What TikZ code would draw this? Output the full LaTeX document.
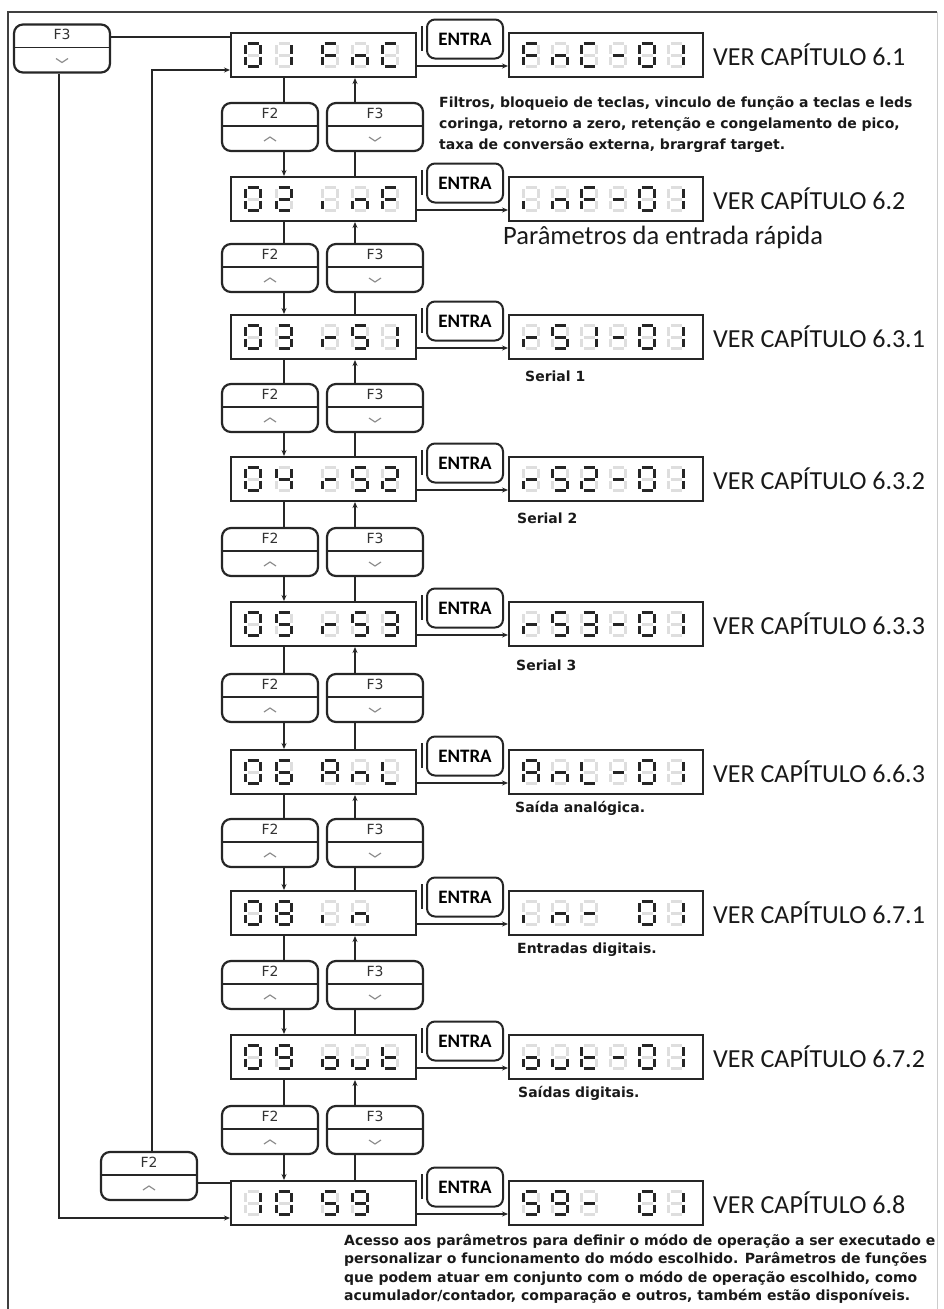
\documentclass[tikz,border=0pt]{standalone}
\usepackage{fontspec}
\setmainfont{DejaVu Sans}
\newfontfamily\calfont{Carlito}
\usetikzlibrary{arrows.meta}

\makeatletter
% segmentos acesos de cada caractere
\def\sgdef#1#2{\expandafter\def\csname sg@#1\endcsname{#2}}
\sgdef0{abcdef}\sgdef1{bc}\sgdef2{abdeg}\sgdef3{abcdg}\sgdef4{bcfg}
\sgdef5{acdfg}\sgdef6{acdefg}\sgdef8{abcdefg}\sgdef9{abcdfg}
\sgdef F{aefg}\sgdef n{ceg}\sgdef C{adef}\sgdef i{e}\sgdef r{eg}
\sgdef S{acdfg}\sgdef A{abcefg}\sgdef L{def}\sgdef o{cdeg}\sgdef u{cde}
\sgdef t{defg}\sgdef -{g}
% um digito de 7 segmentos em (x,y)
\newcommand\segdigit[3]{%
  \edef\seglit{\csname sg@#3\endcsname}%
  \foreach \sn/\xa/\ya/\xb/\yb in {a/-5.5/-11.5/5.5/-11.5, b/7.5/-10/7.5/-1.5,
      c/7.5/1.5/7.5/10, d/-5.5/11.5/5.5/11.5, e/-7.5/1.5/-7.5/10,
      f/-7.5/-10/-7.5/-1.5, g/-5.5/0/5.5/0}{%
    \edef\segtmp{\noexpand\in@{\sn}{\seglit}}\segtmp
    \ifin@
      \draw[segon] (#1+\xa,#2+\ya) -- (#1+\xb,#2+\yb);
    \else
      \draw[segoff] (#1+\xa,#2+\ya) -- (#1+\xb,#2+\yb);
    \fi
  }}
\makeatother
% tecla F2/F3: nome, x, y, texto, pontas e vertice da seta
\newcommand\fkey[6]{%
  \node[fkbox] (#1) at (#2,#3) {};
  \draw[keyline] ([yshift=1pt]#1.west) -- ([yshift=1pt]#1.east);
  \node[keylbl] (#1-t) at ([yshift=-11.5pt]#1.north) {#4};
  \draw[chev] ([xshift=-6pt,yshift=#5pt]#1.center) -- ([yshift=#6pt]#1.center)
    -- ([xshift=6pt,yshift=#5pt]#1.center);
}

\begin{document}
\begin{tikzpicture}[x=1pt, y=-1pt,
    lcd/.style={draw=black!85, line width=2pt, minimum height=44pt, inner sep=0pt},
    segon/.style={line width=3pt, black!85},
    segoff/.style={line width=3pt, black!13},
    fkbox/.style={draw=black!85, line width=2.2pt, rounded corners=9pt,
        minimum width=96pt, minimum height=48pt, inner sep=0pt},
    keyline/.style={line width=1.8pt, black!85},
    keylbl/.style={font=\fontsize{14}{14}\selectfont, text=black!80, inner sep=0pt},
    chev/.style={line width=1.2pt, black!45},
    entra/.style={draw=black!85, line width=2pt, rounded corners=8pt,
        minimum width=76pt, minimum height=39pt, inner sep=0pt,
        font=\calfont\bfseries\fontsize{19}{19}\selectfont},
    conn/.style={line width=2pt, black!85},
    tip/.style={-{Stealth[length=6pt,width=5pt]}},
    chap/.style={font=\calfont\fontsize{26}{26}\selectfont, inner sep=0pt, text=black!90},
    desc/.style={font=\bfseries\fontsize{14}{21}\selectfont, align=left, inner sep=0pt, text=black!90},
    small/.style={font=\bfseries\fontsize{14}{14}\selectfont, inner sep=0pt, text=black!90}]
    \useasboundingbox (0,0) rectangle (943,1309);
    % moldura
    \draw[line width=1.5pt, black!75] (8,1309) -- (8,12) -- (937,12);
    \draw[line width=1pt, black!20] (937,12) -- (937,1309);

    % visores de cada grupo
    \foreach \rw/\y/\lc/\rc/\chap in {
        1/55/{22/0,53/1,99/F,129/n,159/C}/{22/F,51/n,80/C,109/-,138/0,167/1}/6.1,
        2/199/{22/0,53/2,99/i,129/n,159/F}/{22/i,51/n,80/F,109/-,138/0,167/1}/6.2,
        3/337/{22/0,53/3,99/r,129/S,159/1}/{22/r,51/S,80/1,109/-,138/0,167/1}/6.3.1,
        4/479/{22/0,53/4,99/r,129/S,159/2}/{22/r,51/S,80/2,109/-,138/0,167/1}/6.3.2,
        5/624/{22/0,53/5,99/r,129/S,159/3}/{22/r,51/S,80/3,109/-,138/0,167/1}/6.3.3,
        6/772/{22/0,53/6,99/A,129/n,159/L}/{22/A,51/n,80/L,109/-,138/0,167/1}/6.6.3,
        7/913/{22/0,53/8,99/i,129/n}/{22/i,51/n,80/-,138/0,167/1}/6.7.1,
        8/1057/{22/0,53/9,99/o,129/u,159/t}/{22/o,51/u,80/t,109/-,138/0,167/1}/6.7.2,
        9/1203/{22/1,53/0,99/S,129/9}/{22/S,51/9,80/-,138/0,167/1}/6.8}{
        \node[lcd, minimum width=185pt] (L\rw) at (323.5,\y) {};
        \foreach \off/\chr in \lc {\segdigit{231+\off}{\y}{\chr}}
        \node[lcd, minimum width=194pt] (R\rw) at (606,\y) {};
        \foreach \off/\chr in \rc {\segdigit{509+\off}{\y}{\chr}}
        \node[entra] (E\rw) at (465,\y-16) {ENTRA};
        \draw[line width=1.8pt, black!85] ([xshift=-4pt,yshift=13pt]E\rw.west)
            -- ([xshift=-4pt,yshift=-12pt]E\rw.west);
        \draw[conn, tip] ([yshift=-11pt]L\rw.east) -- ([yshift=-11pt]R\rw.west);
        \node[chap, anchor=west] (T\rw) at ([xshift=9pt]R\rw.east) {VER CAPÍTULO \chap};
    }

    % teclas F2 e F3 entre os visores
    \foreach \rw/\nx/\ky in {1/2/127, 2/3/268, 3/4/408, 4/5/552, 5/6/698, 6/7/843, 7/8/985, 8/9/1130}{
        \fkey{U\rw}{270}{\ky}{F2}{-14}{-10}
        \fkey{D\rw}{375}{\ky}{F3}{-10}{-14}
        \coordinate (a\rw) at ([xshift=54pt]L\rw.south west);
        \coordinate (b\rw) at ([xshift=125pt]L\rw.south west);
        \draw[conn] (a\rw) -- (a\rw |- U\rw.north);
        \draw[conn, tip] (U\rw.south -| a\rw) -- (a\rw |- L\nx.north);
        \draw[conn, tip] (b\rw |- D\rw.north) -- (b\rw);
        \draw[conn] (b\rw |- L\nx.north) -- (b\rw |- D\rw.south);
    }

    % retorno pelo lado esquerdo
    \fkey{K3}{62}{48.5}{F3}{-10}{-14}
    \fkey{K2}{149}{1176}{F2}{-14}{-10}
    \coordinate (k3e) at ([yshift=11.5pt]K3.east);
    \coordinate (k2e) at ([yshift=-7pt]K2.east);
    \draw[conn] (k3e) -- (k3e -| L1.west);
    \draw[conn, tip] ([xshift=-3pt]K3.south) |- ([yshift=-15pt]L9.west);
    \draw[conn, tip] ([xshift=3pt]K2.north) |- ([yshift=-15pt]L1.west);
    \draw[conn] (k2e) -- (k2e -| L9.west);

    % textos
    \node[desc, anchor=north west] (N1) at (439,96) {Filtros, bloqueio de teclas, vinculo de função a teclas e leds\\coringa, retorno a zero, retenção e congelamento de pico,\\taxa de conversão externa, brargraf target.};
    \node[chap, anchor=west, font=\calfont\fontsize{26.5}{26.5}\selectfont] (N2) at (503,237) {Parâmetros da entrada rápida};
    \node[small, anchor=west] (N3) at (525,376) {Serial 1};
    \node[small, anchor=west] (N4) at (517,518) {Serial 2};
    \node[small, anchor=west] (N5) at (516,665) {Serial 3};
    \node[small, anchor=west] (N6) at (515,808) {Saída analógica.};
    \node[small, anchor=west] (N7) at (517,950) {Entradas digitais.};
    \node[small, anchor=west] (N8) at (518,1093) {Saídas digitais.};
    \node[desc, anchor=north west, font=\bfseries\fontsize{14}{18.3}\selectfont] (N9) at (344,1234) {Acesso aos parâmetros para definir o módo de operação a ser executado e\\personalizar o funcionamento do módo escolhido. Parâmetros de funções\\que podem atuar em conjunto com o módo de operação escolhido, como\\acumulador/contador, comparação e outros, também estão disponíveis.};
\end{tikzpicture}
\end{document}
